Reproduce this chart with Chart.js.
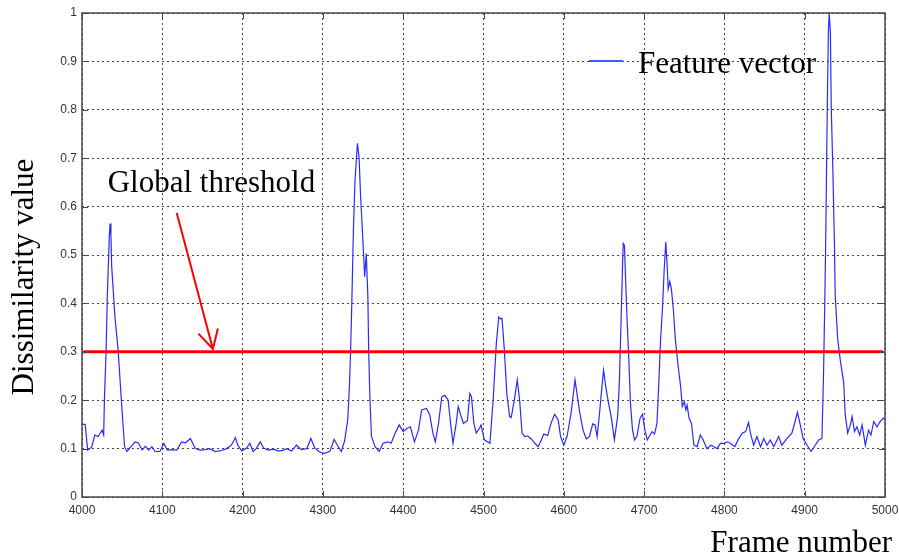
<!DOCTYPE html>
<html>
<head>
<meta charset="utf-8">
<script src="https://cdn.jsdelivr.net/npm/chart.js@4.4.1/dist/chart.umd.min.js"></script>
<style>
  html, body { margin: 0; padding: 0; background: #fff; }
</style>
</head>
<body>
<canvas id="chart" width="899" height="558"></canvas>
<script>
// Feature vector dissimilarity per frame
var frames = [
  4000, 4004, 4007, 4012, 4016, 4020, 4025, 4027, 4028, 4030, 4031.5, 4034, 4035, 4036, 4037, 4041, 4045, 4049, 4053,
  4056, 4066, 4070, 4075, 4079, 4083, 4087, 4091, 4097, 4102, 4106, 4112, 4118, 4124, 4129, 4135, 4141, 4147, 4153,
  4159, 4166, 4174, 4180, 4186, 4191, 4194, 4199, 4205, 4209, 4213, 4217, 4222, 4226, 4232, 4238, 4245, 4251, 4255,
  4261, 4267, 4273, 4280, 4285, 4290, 4296, 4302, 4309, 4314, 4318, 4323, 4327, 4331, 4333, 4334.5, 4336, 4338, 4340,
  4343, 4345, 4347, 4350, 4352, 4354, 4356, 4357, 4358.5, 4360.5, 4365, 4370, 4375, 4381, 4385, 4390, 4395, 4400,
  4405, 4409, 4414, 4419, 4423, 4429, 4433, 4437, 4440, 4444, 4448, 4452, 4456, 4459, 4462, 4466, 4468.5, 4471.5,
  4475, 4480, 4483, 4485, 4488, 4491, 4495, 4497, 4501, 4508, 4512, 4516, 4519, 4521, 4523, 4526, 4529, 4532.5,
  4534.5, 4539, 4542, 4545, 4548, 4551.5, 4555, 4559.5, 4564, 4568, 4572, 4575, 4580, 4584, 4588.5, 4593, 4596, 4600,
  4604, 4609, 4614, 4617, 4620, 4624, 4628, 4632, 4636, 4639, 4641.5, 4644.5, 4647.5, 4649.5, 4652, 4655, 4659, 4663,
  4667, 4669, 4671, 4673, 4674, 4675.5, 4677, 4679, 4681, 4683, 4685.5, 4688, 4691, 4695, 4698, 4701, 4704, 4707,
  4710, 4713, 4716, 4718.5, 4720.5, 4723, 4725, 4727, 4729, 4730, 4732, 4734, 4736.5, 4739, 4742, 4745.5, 4747.5,
  4750, 4752, 4753.5, 4756, 4759, 4762, 4766, 4770, 4773.5, 4778, 4783, 4787, 4791, 4795, 4800, 4803.5, 4807.5, 4813,
  4817, 4822, 4826.5, 4830, 4833, 4836.5, 4840.5, 4845, 4849, 4853, 4857, 4861.5, 4867.5, 4871.5, 4878, 4884, 4888,
  4891, 4894.5, 4898, 4903, 4908, 4913, 4917.5, 4921.5, 4923.5, 4925, 4926, 4928, 4929.5, 4930.5, 4932, 4933, 4935,
  4937, 4938, 4941, 4944.5, 4948.5, 4950.5, 4953.5, 4957, 4959, 4962, 4965, 4968.5, 4971.5, 4975.5, 4979.5, 4982.5,
  4986, 4990, 4994, 4998, 5000
];
var values = [
  0.150, 0.150, 0.097, 0.103, 0.128, 0.125, 0.138, 0.128, 0.207, 0.300, 0.414, 0.538, 0.565, 0.540, 0.476, 0.372, 0.304, 0.200, 0.104,
  0.094, 0.114, 0.112, 0.097, 0.105, 0.097, 0.104, 0.094, 0.094, 0.111, 0.097, 0.098, 0.097, 0.114, 0.112, 0.121, 0.100, 0.097, 0.098,
  0.100, 0.094, 0.096, 0.100, 0.107, 0.123, 0.107, 0.095, 0.101, 0.111, 0.094, 0.100, 0.114, 0.101, 0.097, 0.099, 0.095, 0.097, 0.100,
  0.095, 0.107, 0.098, 0.100, 0.121, 0.101, 0.093, 0.090, 0.095, 0.119, 0.107, 0.094, 0.116, 0.160, 0.230, 0.300, 0.400, 0.552, 0.655,
  0.731, 0.703, 0.620, 0.524, 0.455, 0.503, 0.414, 0.304, 0.207, 0.125, 0.104, 0.094, 0.111, 0.114, 0.111, 0.132, 0.149, 0.135,
  0.142, 0.145, 0.114, 0.138, 0.180, 0.183, 0.170, 0.132, 0.114, 0.152, 0.207, 0.210, 0.200, 0.152, 0.111, 0.152, 0.187, 0.170,
  0.152, 0.158, 0.214, 0.207, 0.152, 0.132, 0.142, 0.149, 0.118, 0.111, 0.200, 0.318, 0.372, 0.368, 0.369, 0.304, 0.214, 0.166,
  0.164, 0.207, 0.242, 0.200, 0.132, 0.125, 0.126, 0.120, 0.111, 0.104, 0.118, 0.130, 0.127, 0.152, 0.171, 0.159, 0.125, 0.107,
  0.125, 0.173, 0.242, 0.207, 0.173, 0.138, 0.120, 0.125, 0.151, 0.149, 0.125, 0.173, 0.228, 0.262, 0.231, 0.200, 0.166, 0.118,
  0.166, 0.228, 0.345, 0.469, 0.524, 0.520, 0.448, 0.359, 0.283, 0.194, 0.140, 0.118, 0.125, 0.163, 0.171, 0.138, 0.118, 0.127,
  0.135, 0.130, 0.152, 0.242, 0.324, 0.393, 0.469, 0.527, 0.469, 0.430, 0.445, 0.430, 0.386, 0.324, 0.276, 0.228, 0.187,
  0.197, 0.180, 0.190, 0.163, 0.152, 0.107, 0.104, 0.128, 0.118, 0.100, 0.107, 0.104, 0.100, 0.111, 0.111, 0.114, 0.111, 0.104,
  0.118, 0.132, 0.135, 0.154, 0.128, 0.107, 0.125, 0.104, 0.121, 0.107, 0.118, 0.104, 0.125, 0.107, 0.121, 0.132, 0.156,
  0.175, 0.149, 0.121, 0.107, 0.094, 0.107, 0.118, 0.121, 0.259, 0.404, 0.507, 0.789, 0.961, 1.000, 0.960, 0.810, 0.680,
  0.527, 0.417, 0.328, 0.280, 0.238, 0.169, 0.132, 0.150, 0.166, 0.135, 0.145, 0.128, 0.149, 0.107, 0.138, 0.128,
  0.156, 0.145, 0.156, 0.163, 0.160
];

var xTicks = [4000, 4100, 4200, 4300, 4400, 4500, 4600, 4700, 4800, 4900, 5000];
var yTicks = [0, 0.1, 0.2, 0.3, 0.4, 0.5, 0.6, 0.7, 0.8, 0.9, 1];
var yTickLabels = ['0', '0.1', '0.2', '0.3', '0.4', '0.5', '0.6', '0.7', '0.8', '0.9', '1'];

var thresholdFrames = [4002, 4997];
var thresholdValue = 0.3;

// where the threshold note and its arrow sit, in frame/value units
var note = { text: 'Global threshold', frame: 4032, value: 0.63 };
var arrow = { fromFrame: 4118, fromValue: 0.587, toFrame: 4163, toValue: 0.306 };

var serif = '31px "Liberation Serif", "Times New Roman", serif';

var featurePoints = frames.map(function(f, i) { return { x: f, y: values[i] }; });
var thresholdPoints = thresholdFrames.map(function(f) { return { x: f, y: thresholdValue }; });

// frame box, inward tick marks, titles, legend and the threshold note
var decorations = {
    id: 'decorations',
    afterDraw: function(chart) {
        var ctx = chart.ctx;
        var a = chart.chartArea;
        var xs = chart.scales.x;
        var ys = chart.scales.y;

        ctx.save();
        ctx.strokeStyle = '#4a4a4a';
        ctx.lineWidth = 1.5;
        ctx.strokeRect(a.left, a.top, a.right - a.left, a.bottom - a.top);

        ctx.lineWidth = 1;
        ctx.beginPath();
        xTicks.forEach(function(t) {
            var px = Math.round(xs.getPixelForValue(t)) + 0.5;
            ctx.moveTo(px, a.bottom); ctx.lineTo(px, a.bottom - 6);
            ctx.moveTo(px, a.top); ctx.lineTo(px, a.top + 6);
        });
        yTicks.forEach(function(t) {
            var py = Math.round(ys.getPixelForValue(t)) + 0.5;
            ctx.moveTo(a.left, py); ctx.lineTo(a.left + 6, py);
            ctx.moveTo(a.right, py); ctx.lineTo(a.right - 6, py);
        });
        ctx.stroke();

        // axis titles
        ctx.fillStyle = '#000';
        ctx.font = serif;
        ctx.textBaseline = 'alphabetic';
        ctx.textAlign = 'right';
        ctx.fillText('Frame number', a.right + 7, 552);

        ctx.save();
        ctx.translate(33, 277);
        ctx.rotate(-Math.PI / 2);
        ctx.textAlign = 'center';
        ctx.fillText('Dissimilarity value', 0, 0);
        ctx.restore();

        // legend
        var lx = a.right - 296;
        var ly = a.top + 48;
        ctx.strokeStyle = '#3d5cff';
        ctx.lineWidth = 2;
        ctx.beginPath();
        ctx.moveTo(lx, ly); ctx.lineTo(lx + 34, ly);
        ctx.stroke();
        ctx.textAlign = 'left';
        ctx.fillText('Feature vector', lx + 49, ly + 12);

        // threshold note with arrow
        ctx.fillText(note.text, xs.getPixelForValue(note.frame), ys.getPixelForValue(note.value));

        var x1 = xs.getPixelForValue(arrow.fromFrame), y1 = ys.getPixelForValue(arrow.fromValue);
        var x2 = xs.getPixelForValue(arrow.toFrame), y2 = ys.getPixelForValue(arrow.toValue);
        var ang = Math.atan2(y1 - y2, x1 - x2);
        var head = 21, spread = 0.5;
        ctx.strokeStyle = '#ff0000';
        ctx.lineWidth = 2;
        ctx.beginPath();
        ctx.moveTo(x1, y1); ctx.lineTo(x2, y2);
        ctx.moveTo(x2 + head * Math.cos(ang - spread), y2 + head * Math.sin(ang - spread));
        ctx.lineTo(x2, y2);
        ctx.lineTo(x2 + head * Math.cos(ang + spread), y2 + head * Math.sin(ang + spread));
        ctx.stroke();
        ctx.restore();
    }
};

new Chart(document.getElementById('chart'), {
    type: 'line',
    data: {
        datasets: [{
            label: 'Threshold',
            data: thresholdPoints,
            borderColor: '#ff0000',
            borderWidth: 3,
            pointRadius: 0,
            tension: 0
        }, {
            label: 'Feature vector',
            data: featurePoints,
            borderColor: '#2a2aff',
            borderWidth: 1.2,
            pointRadius: 0,
            tension: 0
        }]
    },
    options: {
        responsive: false,
        animation: false,
        devicePixelRatio: 1,
        layout: { padding: { top: 13, right: 14, left: 0, bottom: 0 } },
        plugins: {
            legend: { display: false },
            tooltip: { enabled: false }
        },
        scales: {
            x: {
                type: 'linear',
                min: 4000,
                max: 5000,
                afterBuildTicks: function(scale) {
                    scale.ticks = xTicks.map(function(v) { return { value: v }; });
                },
                afterFit: function(scale) {
                    scale.height = 61;
                    scale.paddingLeft = 0;
                    scale.paddingRight = 0;
                },
                ticks: {
                    autoSkip: false,
                    maxRotation: 0,
                    padding: 6,
                    color: '#333',
                    font: { family: '"Liberation Sans", Arial, sans-serif', size: 12 },
                    callback: function(value) { return String(value); }
                },
                grid: { color: '#444', lineWidth: 1, drawTicks: false },
                border: { display: false, dash: [2, 3] }
            },
            y: {
                min: 0,
                max: 1,
                afterBuildTicks: function(scale) {
                    scale.ticks = yTicks.map(function(v) { return { value: v }; });
                },
                afterFit: function(scale) {
                    scale.width = 82;
                    scale.paddingTop = 0;
                    scale.paddingBottom = 0;
                },
                ticks: {
                    padding: 5,
                    color: '#333',
                    font: { family: '"Liberation Sans", Arial, sans-serif', size: 12 },
                    callback: function(value, index) { return yTickLabels[index]; }
                },
                grid: { color: '#444', lineWidth: 1, drawTicks: false },
                border: { display: false, dash: [2, 3] }
            }
        }
    },
    plugins: [decorations]
});
</script>
</body>
</html>
